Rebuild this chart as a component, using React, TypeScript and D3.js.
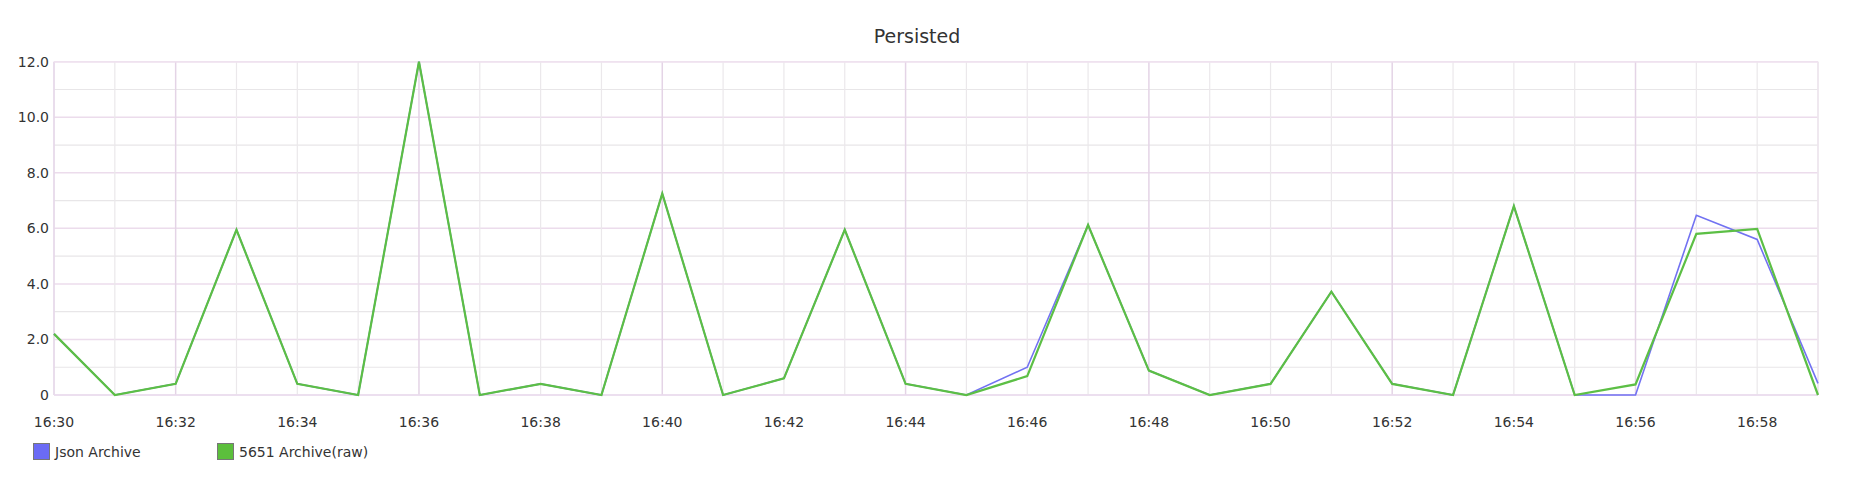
import React from "react";
import * as d3 from "d3";

const minutes = ["16:30","16:31","16:32","16:33","16:34","16:35","16:36","16:37","16:38","16:39","16:40","16:41","16:42","16:43","16:44","16:45","16:46","16:47","16:48","16:49","16:50","16:51","16:52","16:53","16:54","16:55","16:56","16:57","16:58","16:59"];
const jsonArchive = [2.2,0,0.4,5.95,0.4,0,12,0,0.4,0,7.25,0,0.6,5.95,0.4,0,1.0,6.12,0.88,0,0.4,3.72,0.4,0,6.8,0,0,6.47,5.6,0.42];
const raw5651 = [2.2,0,0.4,5.95,0.4,0,12,0,0.4,0,7.25,0,0.6,5.95,0.4,0,0.68,6.12,0.88,0,0.4,3.72,0.4,0,6.8,0,0.38,5.8,5.98,0];
const yTicks = [0,2,4,6,8,10,12];
const seriesNames = ["Json Archive","5651 Archive(raw)"];
const seriesColors = ["#7272f2","#5cbf45"];
const legendColors = ["#6b6bf5","#5cbf3c"];

const W = 1854, H = 478;
const L = 54, R = 1818, T = 61.7, B = 395;

export default function App() {
  const x = d3.scaleLinear().domain([0, minutes.length - 1]).range([L, R]);
  const y = d3.scaleLinear().domain([0, 12]).range([B, T]);
  const line = d3.line<number>().x((_, i) => x(i)).y((v) => y(v));
  const minorY = d3.range(0, 12.01, 1);
  const font = "DejaVu Sans, sans-serif";
  return (
    <svg width={W} height={H} style={{ position: "absolute", left: 0, top: 0, background: "#fff" }}>
      <text x={917} y={43} textAnchor="middle" fontFamily={font} fontSize={19} fill="#333">Persisted</text>
      {minorY.map((v) => (
        <line key={"h" + v} x1={L} x2={R} y1={y(v)} y2={y(v)} stroke={v % 2 === 0 ? "#ecdcec" : "#e8e6e8"} strokeWidth={v % 2 === 0 ? 1.5 : 1.2} />
      ))}
      {minutes.map((m, i) => (
        <line key={"v" + i} x1={x(i)} x2={x(i)} y1={T} y2={B} stroke={(i + 2) % 4 === 0 ? "#e4d4e6" : "#ebe8eb"} strokeWidth={(i + 2) % 4 === 0 ? 1.5 : 1.2} />
      ))}
      <line x1={L} x2={L} y1={T} y2={B} stroke="#e6d6ea" strokeWidth={1.5} />
      <line x1={R} x2={R} y1={T} y2={B} stroke="#eee4ee" strokeWidth={1.5} />
      <line x1={L} x2={R} y1={T} y2={T} stroke="#efe2ef" strokeWidth={1.5} />
      <line x1={L} x2={R} y1={B} y2={B} stroke="#eadcee" strokeWidth={1.5} />
      {yTicks.map((v) => (
        <text key={"yt" + v} x={49} y={y(v) + 5} textAnchor="end" fontFamily={font} fontSize={14} fill="#333">{v === 0 ? "0" : v.toFixed(1)}</text>
      ))}
      {minutes.map((m, i) => i % 2 === 0 ? (
        <text key={"xt" + i} x={x(i)} y={427} textAnchor="middle" fontFamily={font} fontSize={14} fill="#333">{m}</text>
      ) : null)}
      <path d={line(jsonArchive) || ""} fill="none" stroke={seriesColors[0]} strokeWidth={1.6} strokeLinejoin="miter" />
      <path d={line(raw5651) || ""} fill="none" stroke={seriesColors[1]} strokeWidth={2.2} strokeLinejoin="miter" />
      {seriesNames.map((n, i) => (
        <g key={"lg" + i} transform={`translate(${i === 0 ? 33 : 217},443)`}>
          <rect x={0.5} y={0.5} width={16} height={16} fill={legendColors[i]} stroke="#777" strokeWidth={1} />
          <text x={22} y={14} fontFamily={font} fontSize={14} fill="#333">{n}</text>
        </g>
      ))}
    </svg>
  );
}
